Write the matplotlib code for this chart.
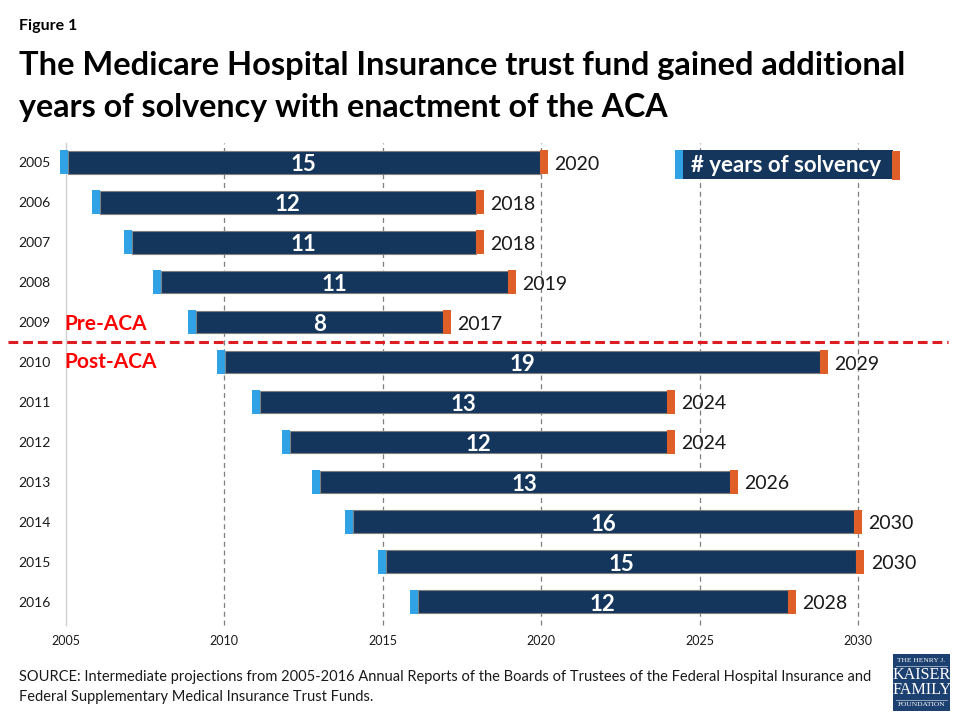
import matplotlib.pyplot as plt
from matplotlib.patches import Rectangle
from matplotlib.lines import Line2D

plt.rcParams['font.family'] = ['Lato', 'DejaVu Sans']

# Report year, start / end of the solvency bar, labels
report_years = [2005, 2006, 2007, 2008, 2009, 2010, 2011, 2012, 2013, 2014, 2015, 2016]
starts = [2005.08, 2006.09, 2007.10, 2008.01, 2009.11, 2010.03, 2011.13, 2012.08, 2013.02, 2014.06, 2015.10, 2016.11]
ends = [2019.96, 2017.94, 2017.94, 2018.95, 2016.90, 2028.79, 2023.96, 2023.96, 2025.95, 2029.86, 2029.95, 2027.78]
solvency_years = [15, 12, 11, 11, 8, 19, 13, 12, 13, 16, 15, 12]
depletion_years = [2020, 2018, 2018, 2019, 2017, 2029, 2024, 2024, 2026, 2030, 2030, 2028]
x_ticks = [2005, 2010, 2015, 2020, 2025, 2030]

navy = '#14365d'
blue = '#2fa3e6'
orange = '#e05f28'

fig = plt.figure(figsize=(9.6, 7.2), dpi=100)
W, H = 960, 720


def fx(px):
    return px / W


def fy(px):
    return 1 - px / H


ax = fig.add_axes([fx(65.5), fy(625), fx(858 - 65.5), (625 - 143) / H])
ax.set_xlim(2005, 2030)
ax.set_ylim(11.58, -0.48)
ax.patch.set_alpha(0)

for t in x_ticks[1:]:
    ax.axvline(t, color='#7f7f7f', lw=0.9, ls=(0, (4, 3)), zorder=1, clip_on=False)
ax.axvline(2005, color='#d0d0d0', lw=1, zorder=1, clip_on=False)

cap = 8 / 31.7
for i, yr in enumerate(report_years):
    ax.barh(i, ends[i] - starts[i], left=starts[i], height=0.57, color=navy,
            edgecolor='#7f7f7f', lw=0.8, zorder=2, clip_on=False)
    ax.barh(i, cap, left=starts[i] - cap, height=0.6, color=blue, zorder=3, clip_on=False)
    ax.barh(i, cap, left=ends[i], height=0.6, color=orange, zorder=3, clip_on=False)
    ax.text((starts[i] + ends[i]) / 2, i + 0.07, str(solvency_years[i]), color='white',
            fontsize=16, fontweight='bold', ha='center', va='center', zorder=4)
    ax.text(ends[i] + cap + 0.2, i + 0.05, str(depletion_years[i]), color='#1a1a1a',
            fontsize=14, ha='left', va='center', zorder=4)

ax.set_xticks(x_ticks)
ax.set_yticks(range(len(report_years)))
ax.set_yticklabels(report_years)
ax.tick_params(length=0, labelsize=9, colors='#1a1a1a')
ax.tick_params(axis='y', labelsize=10, pad=10.7)
ax.tick_params(axis='x', pad=7)
for s in ax.spines.values():
    s.set_visible(False)

# Titles and notes
fig.text(fx(19), fy(26), 'Figure 1', fontsize=11.5, fontweight='bold', va='center', color='black')
fig.text(fx(19), fy(66), 'The Medicare Hospital Insurance trust fund gained additional',
         fontsize=23.5, fontweight='bold', va='center', color='black')
fig.text(fx(19), fy(107), 'years of solvency with enactment of the ACA',
         fontsize=23.2, fontweight='bold', va='center', color='black')
fig.text(fx(64), fy(324), 'Pre-ACA', fontsize=15, fontweight='bold', color='#fe0000', va='center')
fig.text(fx(64), fy(362), 'Post-ACA', fontsize=15, fontweight='bold', color='#fe0000', va='center')
fig.add_artist(Line2D([fx(8), fx(948)], [fy(342), fy(342)], color='#dd1c24', lw=2.2, ls=(0, (3.2, 1.6))))

fig.text(fx(19), fy(677), 'SOURCE: Intermediate projections from 2005-2016 Annual Reports of the Boards of Trustees of the Federal Hospital Insurance and',
         fontsize=10.5, va='center', color='#1a1a1a')
fig.text(fx(19), fy(697), 'Federal Supplementary Medical Insurance Trust Funds.',
         fontsize=10.5, va='center', color='#1a1a1a')

# Legend key
for x0, x1, col, top, bot in [(683, 893, navy, 150, 179), (675, 683, blue, 150, 179), (892, 900, orange, 151, 180)]:
    fig.add_artist(Rectangle((fx(x0), fy(bot)), fx(x1 - x0), (bot - top) / H, color=col, lw=0))
fig.text(fx(786), fy(165), '# years of solvency', color='white', fontsize=16, fontweight='bold',
         ha='center', va='center')

# Kaiser logo
logo_navy = '#1c4070'
fig.add_artist(Rectangle((fx(893), fy(711)), fx(57), 57 / H, color=logo_navy, lw=0))
logo_font = ['Liberation Serif', 'DejaVu Serif']
for txt, y, size in [('THE HENRY J.', 660.5, 5.4), ('KAISER', 675, 11.6), ('FAMILY', 690, 11.6), ('FOUNDATION', 705, 5.4)]:
    fig.text(fx(921.5), fy(y), txt, color='white', fontsize=size, ha='center', va='center', family=logo_font)
for y in [665.5, 699.5]:
    fig.add_artist(Line2D([fx(896), fx(947)], [fy(y), fy(y)], color='#a8b8cc', lw=0.6))

fig.savefig('out.png', dpi=100)
